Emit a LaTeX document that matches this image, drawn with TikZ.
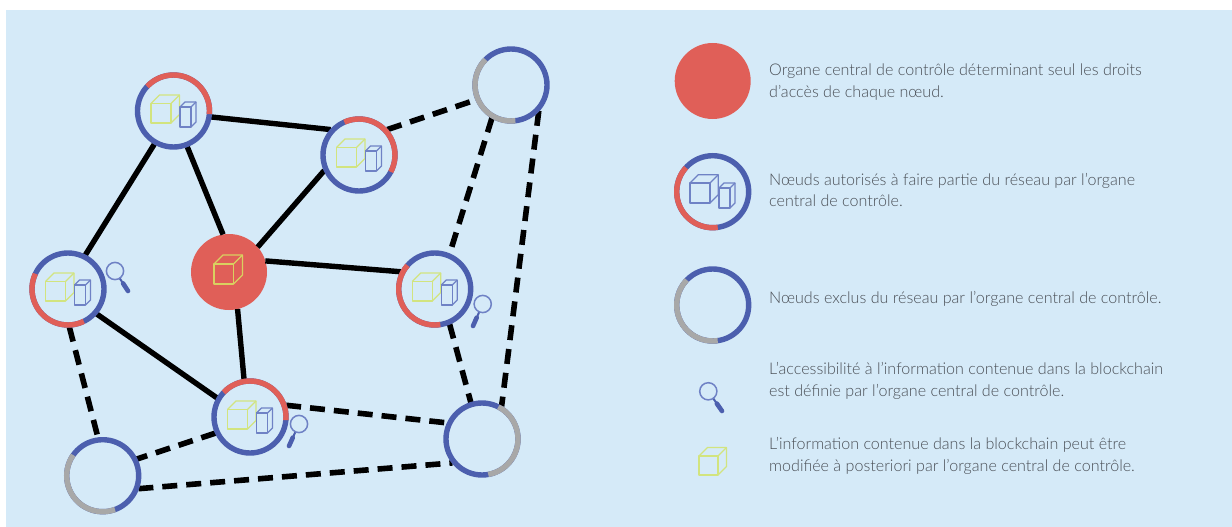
\documentclass[tikz,border=0pt]{standalone}
\usepackage{fontspec}
\setmainfont{Lato Light}
\usetikzlibrary{calc}
\definecolor{bgblue}{HTML}{D5EAF8}
\definecolor{ringblue}{HTML}{4C5FAE}
\definecolor{ringred}{HTML}{E05F58}
\definecolor{ringgray}{HTML}{A8A8A8}
\definecolor{cubegreen}{HTML}{D2E47F}
\definecolor{cubeyellow}{HTML}{D9D060}
\definecolor{boxblue}{HTML}{6F82C5}
\definecolor{legendtext}{HTML}{4A4F56}
\tikzset{
  x=1pt,y=1pt,
  netnode/.style={circle,minimum size=76pt,inner sep=0pt,outer sep=0pt},
  ringbase/.style={draw=ringblue,line width=5.4pt},
  solidlink/.style={black,line width=5.4pt},
  dashlink/.style={black,line width=5.6pt,dash pattern=on 15pt off 9pt},
  legendlabel/.style={anchor=west,align=left,text=legendtext,font=\fontsize{16.1}{21.8}\selectfont,inner sep=0pt},
  lensring/.style={draw=boxblue,line width=1.5pt},
  lenshandle/.style={draw=ringblue,line width=4.6pt,line cap=round}
}
\newcommand{\boxshape}[6]{% x y w h depth colour
  \draw[#6,line width=1.25pt,line join=round] (#1,#2) rectangle ++(#3,#4);
  \draw[#6,line width=1.25pt,line join=round] (#1,#2+#4) -- ++(#5,#5) -- ++(#3,0) -- ++(0,-#4) -- ++(-#5,-#5);
  \draw[#6,line width=1.25pt] (#1+#3,#2+#4) -- ++(#5,#5);
}
\newcommand{\duoicon}[3]{% node, big colour, small colour
  \begin{scope}[shift={(#1.center)}]
    \boxshape{-22.5}{-12}{20}{19.5}{8.5}{#2}
    \boxshape{6.5}{-16}{11}{20}{5}{#3}
  \end{scope}
}
\newcommand{\ringarc}[4]{% node, colour, start, end
  \draw[#2,line width=5.4pt] (#1) ++(#3:36) arc[start angle=#3,end angle=#4,radius=36];
}
\newcommand{\netring}[1]{\draw[ringbase] (#1) circle (36);}
\newcommand{\lens}[4]{% circle x y, handle end x y
  \coordinate (lc) at (#1,#2);
  \coordinate (le) at (#3,#4);
  \draw[lenshandle] ($(lc)!0.62!(le)$) -- (le);
  \draw[ringblue,line width=2pt] ($(lc)!8.6pt!(le)$) -- ($(lc)!0.7!(le)$);
  \draw[lensring] (lc) circle (8.6);
}
\begin{document}
\begin{tikzpicture}
\useasboundingbox (0,0) rectangle (1232,-527);
\fill[white] (0,0) rectangle (1232,-527);
\fill[bgblue] (6,-10) rectangle (1232,-527);
% nodes
\node[netnode] (A) at (173.5,-111) {};
\node[netnode] (B) at (359,-155) {};
\node[netnode] (C) at (511,-85) {};
\node[netnode] (D) at (68,-289) {};
\node[netnode,fill=ringred] (E) at (229,-272) {};
\node[netnode] (F) at (434.7,-289) {};
\node[netnode] (G) at (250,-417) {};
\node[netnode] (H) at (482,-439) {};
\node[netnode] (I) at (102.7,-475.7) {};
% solid links
\draw[solidlink] (A.-9) -- (B.138);
\draw[solidlink] (A.-69) -- (E.99);
\draw[solidlink] (A.-120) -- (D.63);
\draw[solidlink] (B.-156) -- (E.41);
\draw[solidlink] (E.17) -- (F.153);
\draw[solidlink] (E.-77) -- (G.99);
\draw[solidlink] (D.-41) -- (G.150);
% dashed links
\draw[dashlink] (B.42) -- (C.203);
\draw[dashlink] (C.-120) -- (F.67);
\draw[dashlink] (C.-43) -- (H.59);
\draw[dashlink] (F.-67) -- (H.107);
\draw[dashlink] (G.18) -- (H.155);
\draw[dashlink] (G.205) -- (I.26);
\draw[dashlink] (I.-20) -- (H.-141);
\draw[dashlink] (D.-88) -- (I.97);
% rings
\foreach \n in {A,B,C,D,F,G,H,I} {\netring{\n}}
\ringarc{A}{ringred}{137}{-5}
\ringarc{B}{ringred}{114}{-28}
\ringarc{C}{ringgray}{135}{277}
\ringarc{D}{ringred}{155}{296}
\ringarc{F}{ringred}{139}{279}
\ringarc{G}{ringred}{137}{-5}
\ringarc{H}{ringgray}{63}{-80}
\ringarc{I}{ringgray}{145}{290}
% icons
\duoicon{A}{cubegreen}{boxblue}
\duoicon{B}{cubegreen}{boxblue}
\duoicon{D}{cubegreen}{boxblue}
\duoicon{F}{cubegreen}{boxblue}
\duoicon{G}{cubegreen}{boxblue}
\begin{scope}[shift={(E.center)}]
  \boxshape{-15}{-12}{19.5}{20}{9}{cubeyellow}
\end{scope}
\lens{115}{-271}{128}{-291}
\lens{482.7}{-304}{473}{-326}
\lens{299}{-424}{289}{-446}
% legend
\node[netnode,fill=ringred] (L1) at (712.7,-81) {};
\node[netnode] (L2) at (712.7,-191.7) {};
\node[netnode] (L3) at (712.7,-305) {};
\netring{L2}
\ringarc{L2}{ringred}{138}{278}
\netring{L3}
\ringarc{L3}{ringgray}{136}{278}
\begin{scope}[shift={(L2.center)}]
  \boxshape{-22.7}{-11.3}{20}{20}{8.3}{boxblue}
  \boxshape{6.3}{-16.3}{11}{20}{5}{boxblue}
\end{scope}
\lens{708.3}{-391.3}{722}{-411}
\boxshape{699}{-475}{19}{19}{8.5}{cubegreen}
\node[legendlabel] (T1) at (769,-82.2) {Organe central de contrôle déterminant seul les droits\\d’accès de chaque nœud.};
\node[legendlabel] (T2) at (769,-190) {Nœuds autorisés à faire partie du réseau par l’organe\\central de contrôle.};
\node[legendlabel] (T3) at (769,-298.6) {Nœuds exclus du réseau par l’organe central de contrôle.};
\node[legendlabel] (T4) at (769,-381.2) {L’accessibilité à l’information contenue dans la blockchain\\est définie par l’organe central de contrôle.};
\node[legendlabel] (T5) at (769,-456.2) {L’information contenue dans la blockchain peut être\\modifiée à posteriori par l’organe central de contrôle.};
\end{tikzpicture}
\end{document}
